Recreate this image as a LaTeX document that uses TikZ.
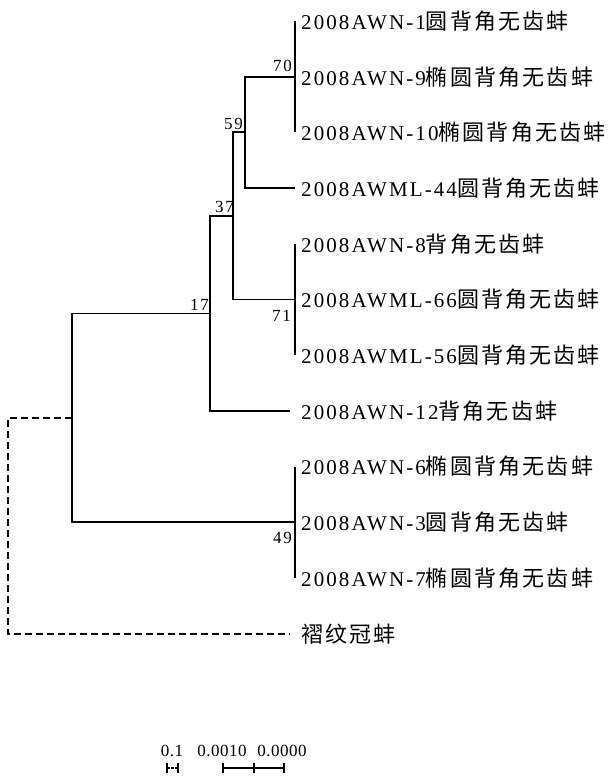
\documentclass[tikz,border=0pt]{standalone}
\usepackage{fontspec}
\setmainfont{Liberation Serif}
\newfontfamily\leaffont[LetterSpace=10]{Liberation Serif}
\newfontfamily\numfont[LetterSpace=10]{Liberation Serif}
\newfontfamily\sclfont[LetterSpace=3]{Liberation Serif}
\newfontfamily\cjkfont[LetterSpace=10]{Noto Sans CJK SC}
\newcommand{\zh}[1]{{\cjkfont\fontsize{22}{26}\selectfont #1}}
\tikzset{
  branch/.style={line width=1.8pt, line join=miter},
  outg/.style={branch, dash pattern=on 7pt off 4pt},
  leaf/.style={anchor=west, inner sep=0pt, font=\leaffont\fontsize{21}{25}\selectfont},
  boot/.style={anchor=base east, inner sep=0pt, font=\numfont\fontsize{17}{20}\selectfont},
  scl/.style={anchor=base, inner sep=0pt, font=\sclfont\fontsize{17}{20}\selectfont},
}
\begin{document}
\begin{tikzpicture}[x=1pt,y=-1pt]
\useasboundingbox (0,0) rectangle (607,778);
% internal nodes
\coordinate (n70) at (295,76.7);
\coordinate (n59) at (245,132.4);
\coordinate (n71) at (295,299.5);
\coordinate (n37) at (233,216);
\coordinate (n17) at (210,313.5);
\coordinate (n49) at (295,522.3);
\coordinate (root) at (72,418);
\coordinate (og) at (8,418);
% tips
\coordinate (t1) at (295,21);
\coordinate (t3) at (295,132.4);
\coordinate (t4) at (295,188.1);
\coordinate (t5) at (295,243.8);
\coordinate (t7) at (295,355.2);
\coordinate (t8) at (290,410.9);
\coordinate (t9) at (295,466.6);
\coordinate (t11) at (295,578);
\coordinate (t12) at (290,633.7);
% branches
\draw[branch] (n70) -- (t1);
\draw[branch] (n70) -- (t3);
\draw[branch] (n59) |- (n70);
\draw[branch] (n59) |- (t4);
\draw[branch] (n37) |- (n59);
\draw[branch] (n37) |- (n71);
\draw[branch] (n71) -- (t5);
\draw[branch] (n71) -- (t7);
\draw[branch] (n17) |- (n37);
\draw[branch] (n17) |- (t8);
\draw[branch] (root) |- (n17);
\draw[branch] (root) |- (n49);
\draw[branch] (n49) -- (t9);
\draw[branch] (n49) -- (t11);
\draw[outg] (root) -- (og) |- (t12);
% leaf labels
\node[leaf] (L1) at (301,21) {2008AWN-1\zh{圆背角无齿蚌}};
\node[leaf] (L2) at (301,76.7) {2008AWN-9\zh{椭圆背角无齿蚌}};
\node[leaf] (L3) at (301,132.4) {2008AWN-10\zh{椭圆背角无齿蚌}};
\node[leaf] (L4) at (301,188.1) {2008AWML-44\zh{圆背角无齿蚌}};
\node[leaf] (L5) at (301,243.8) {2008AWN-8\zh{背角无齿蚌}};
\node[leaf] (L6) at (301,299.5) {2008AWML-66\zh{圆背角无齿蚌}};
\node[leaf] (L7) at (301,355.2) {2008AWML-56\zh{圆背角无齿蚌}};
\node[leaf] (L8) at (301,410.9) {2008AWN-12\zh{背角无齿蚌}};
\node[leaf] (L9) at (301,466.6) {2008AWN-6\zh{椭圆背角无齿蚌}};
\node[leaf] (L10) at (301,522.3) {2008AWN-3\zh{圆背角无齿蚌}};
\node[leaf] (L11) at (301,578) {2008AWN-7\zh{椭圆背角无齿蚌}};
\node[leaf] (L12) at (301,633.7) {\zh{褶纹冠蚌}};
% bootstrap values
\node[boot] (b70) at (292,72) {70};
\node[boot] (b59) at (243,130) {59};
\node[boot] (b37) at (234,212) {37};
\node[boot] (b17) at (209,310) {17};
\node[boot] (b71) at (291,321) {71};
\node[boot] (b49) at (292,543) {49};
% scale bars
\node[scl] (s1) at (172,756) {0.1};
\node[scl] (s2) at (222,756) {0.0010};
\node[scl] (s3) at (282,756) {0.0000};
\coordinate (sa) at (167,768);
\coordinate (sb) at (178,768);
\coordinate (sc) at (223,768);
\coordinate (sd) at (254,768);
\coordinate (se) at (284,768);
\draw[branch, line width=1.2pt, dash pattern=on 2.5pt off 1.5pt] (sa) -- (sb);
\draw[branch] (sc) -- (se);
\foreach \p in {sa,sb,sc,sd,se}
  \draw[branch, line width=1.4pt] (\p) ++(0,-5) -- ++(0,10);
\end{tikzpicture}
\end{document}
